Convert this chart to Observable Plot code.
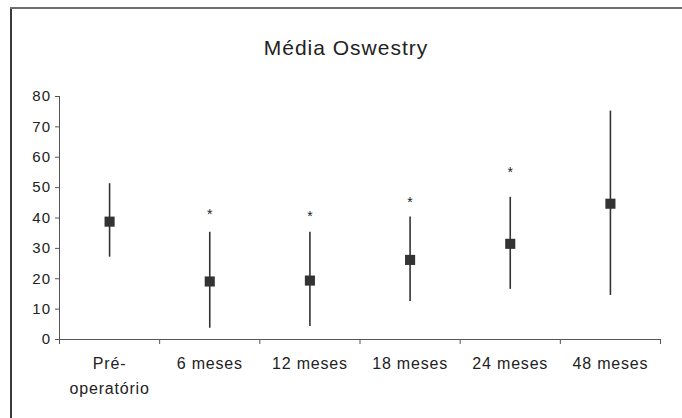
<!DOCTYPE html>
<html>
<head>
<meta charset="utf-8">
<script src="https://cdn.jsdelivr.net/npm/d3@7"></script>
<script src="https://cdn.jsdelivr.net/npm/@observablehq/plot@0.6"></script>
<style>
  body { margin: 0; background: #fff; }
  #wrap { position: relative; width: 682px; height: 418px; overflow: hidden; background: #fff; font-family: "Liberation Sans", Arial, sans-serif; }
  #frameLeft { position: absolute; left: 10px; top: 7px; width: 2px; height: 411px; background: #3a3a3a; }
  #frameTop { position: absolute; left: 10px; top: 7px; width: 672px; height: 2px; background: #6e6e6e; }
  #title { position: absolute; left: 10px; width: 672px; top: 36px; line-height: 24px; text-align: center; font-size: 21px; letter-spacing: 1px; color: #222; }
  #chart { position: absolute; left: 0; top: 70px; }
  #chart svg { font-family: "Liberation Sans", Arial, sans-serif; }
  #chart g[aria-label="y-axis tick label"] text { letter-spacing: 1.3px; }
  #chart g[aria-label="x-axis tick label"] text { letter-spacing: 0.8px; }
</style>
</head>
<body>
<div id="wrap">
  <div id="frameLeft"></div>
  <div id="frameTop"></div>
  <div id="title">Média Oswestry</div>
  <div id="chart"></div>
</div>
<script>
const categories = ["Pré-\noperatório", "6 meses", "12 meses", "18 meses", "24 meses", "48 meses"];
const means = [38.8, 19.1, 19.4, 26.2, 31.5, 44.7];
const lower = [27.1, 3.7, 4.3, 12.5, 16.5, 14.5];
const upper = [51.3, 35.3, 35.3, 40.3, 46.8, 75.2];
const starY = [null, 42.5, 41.9, 46.3, 56.2, null];
const yTicks = [0, 10, 20, 30, 40, 50, 60, 70, 80];

const rows = categories.map((c, i) => ({
  pos: i + 0.5, cat: c, mean: means[i], lo: lower[i], hi: upper[i], star: starY[i]
}));
const stars = rows.filter(d => d.star != null);

const chart = Plot.plot({
  width: 682,
  height: 348,
  marginLeft: 59,
  marginRight: 22,
  marginTop: 26,
  marginBottom: 79,
  x: { type: "linear", domain: [0, categories.length], label: null },
  y: { domain: [0, 80], label: null },
  marks: [
    Plot.ruleX(rows, { x: "pos", y1: "lo", y2: "hi", stroke: "#333", strokeWidth: 1.6 }),
    Plot.dot(rows, { x: "pos", y: "mean", symbol: "square", r: 5.7, fill: "#333", stroke: "none" }),
    Plot.text(stars, { x: "pos", y: "star", text: () => "*", fontSize: 14, fill: "#222", lineAnchor: "middle", dy: 4 }),
    Plot.ruleX([0], { stroke: "#555", strokeWidth: 1 }),
    Plot.ruleY([0], { stroke: "#555", strokeWidth: 1 }),
    Plot.axisY({ ticks: yTicks, tickSize: 4, tickPadding: 4, fontSize: 15, stroke: "#555", fill: "#222", tickFormat: d => String(d) }),
    Plot.axisX({ ticks: d3.range(0, categories.length + 1), tickSize: 5, tickFormat: () => "", stroke: "#555" }),
    Plot.axisX({ ticks: rows.map(d => d.pos), tickSize: 0, tickPadding: 12, fontSize: 16, lineHeight: 1.5625, fill: "#222", lineAnchor: "top",
      tickFormat: p => categories[Math.floor(p)] })
  ]
});
document.getElementById("chart").appendChild(chart);
</script>
</body>
</html>
